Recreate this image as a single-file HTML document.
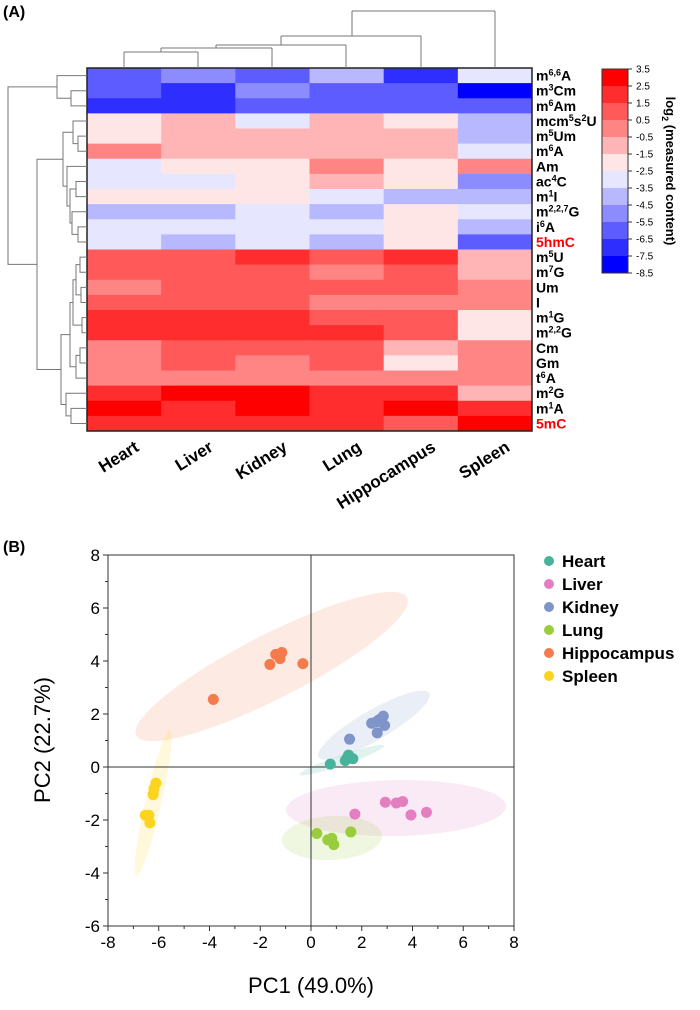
<!DOCTYPE html>
<html><head><meta charset="utf-8"><style>
body{margin:0;background:#fff;}
svg text{font-family:"Liberation Sans",Arial,sans-serif;}
</style></head><body>
<svg id="s" width="700" height="1005" xmlns="http://www.w3.org/2000/svg">
<text x="3" y="17" font-size="16" font-weight="bold">(A)</text>
<text x="3" y="552" font-size="16" font-weight="bold">(B)</text>
<g id="hm"></g>
<g id="pca"></g>
</svg>
<script>
const NS="http://www.w3.org/2000/svg";
function mk(p,t,a){const e=document.createElementNS(NS,t);for(const k in a)e.setAttribute(k,a[k]);p.appendChild(e);return e;}
// ---------- Heatmap data ----------
const tissues=["Heart","Liver","Kidney","Lung","Hippocampus","Spleen"];
const rowLabels=[["m","6,6","A"],["m","3","Cm"],["m","6","Am"],["mcm","5","s","2","U"],["m","5","Um"],["m","6","A"],["Am"],["ac","4","C"],["m","1","I"],["m","2,2,7","G"],["i","6","A"],["5hmC"],["m","5","U"],["m","7","G"],["Um"],["I"],["m","1","G"],["m","2,2","G"],["Cm"],["Gm"],["t","6","A"],["m","2","G"],["m","1","A"],["5mC"]];
const redRows=[11,23];
const hmValues=[
[-6,-5,-6,-4,-7,-3],[-6,-7,-5,-6,-6,-8],[-7,-7,-6,-6,-6,-6],
[-2,-1,-3,-1,-2,-4],[-2,-1,-1,-1,-1,-4],[0,-1,-1,-1,-1,-3],
[-3,-2,-2,0,-2,0],[-3,-3,-2,-1,-2,-5],[-2,-2,-2,-3,-4,-4],
[-4,-4,-3,-4,-2,-3],[-3,-3,-3,-3,-2,-4],[-3,-4,-3,-4,-2,-6],
[1,1,2,1,2,-1],[1,1,1,0,1,-1],[0,1,1,1,1,0],[1,1,1,0,0,0],
[2,2,2,1,1,-2],[2,2,2,2,1,-2],[0,1,1,1,-1,0],[0,1,0,1,-2,0],
[0,0,0,0,0,0],[2,3,3,2,2,-1],[3,2,3,2,3,2],[2,2,2,2,1,3]];
const cbTicks=[3.5,2.5,1.5,0.5,-0.5,-1.5,-2.5,-3.5,-4.5,-5.5,-6.5,-7.5,-8.5];
const palette=["#ff0000","#ff2d2d","#ff5959","#ff8585","#ffb5b5","#ffe6e6","#e6e6ff","#b8b8ff","#8c8cff","#5c5cff","#2e2eff","#0000ff"];
function colorOf(v){let i=Math.floor(3.5-v);i=Math.max(0,Math.min(11,i));return palette[i];}
const HX0=87,HX1=532,HY0=68,HY1=431;
const cw=(HX1-HX0)/tissues.length, rh=(HY1-HY0)/rowLabels.length;
const hmX=i=>HX0+i*cw, hmY=j=>HY0+j*rh;
const hm=document.getElementById('hm');
hmValues.forEach((row,j)=>row.forEach((v,i)=>{
 const r=mk(hm,'rect',{x:hmX(i),y:hmY(j),width:cw+0.5,height:rh+0.5,fill:colorOf(v)});
 
 
}));
mk(hm,'rect',{x:HX0,y:HY0,width:HX1-HX0,height:HY1-HY0,fill:'none',stroke:'#222','stroke-width':1.5});
rowLabels.forEach((lab,j)=>{
 const t=mk(hm,'text',{x:HX1+4,y:hmY(j)+rh/2+5,'font-size':14,'font-weight':'bold',fill:redRows.includes(j)?'#ff0000':'#000'});
 
 
 lab.forEach((p,k)=>{const ts=mk(t,'tspan',{});ts.textContent=p;
  if(k%2==1){ts.setAttribute('font-size','9');ts.setAttribute('dy','-5');}
  else if(k>0){ts.setAttribute('dy','5');}});
});
tissues.forEach((n,i)=>{
 const cx=hmX(i)+cw/2+16, cy=450;
 const t=mk(hm,'text',{x:cx,y:cy,'font-size':17,'font-weight':'bold','text-anchor':'end',transform:`rotate(-32 ${cx} ${cy})`});
 t.textContent=n;
 
 
});
// column dendrogram
const cd=[[124,52,198,52],[161,48,272,48],[216,45,346,45],[281,36,421,36],[352,11,495,11]];
const cdv=[[124,52,68],[198,52,68],[161,48,52],[272,48,68],[216,45,48],[346,45,68],[281,36,45],[421,36,68],[352,11,36],[495,11,68]];
const cdg=mk(hm,'g',{stroke:'#777','stroke-width':1,fill:'none'});

cd.forEach(l=>mk(cdg,'line',{x1:l[0],y1:l[1],x2:l[2],y2:l[3]}));
cdv.forEach(l=>mk(cdg,'line',{x1:l[0],y1:l[1],x2:l[0],y2:l[2]}));
// row dendrogram
const rdg=mk(hm,'g',{stroke:'#777','stroke-width':1,fill:'none'});

const rc=j=>hmY(j)+rh/2;
function br(x,ya,yb,xa,xb){mk(rdg,'polyline',{points:`${xa},${ya} ${x},${ya} ${x},${yb} ${xb},${yb}`});return (ya+yb)/2;}
let a=br(71,rc(1),rc(2),87,87); let A=br(57,rc(0),a,87,71);
let b=br(78,rc(4),rc(5),87,87); let b2=br(73,rc(3),b,87,78);
let c=br(76,rc(7),rc(8),87,87); let c2=br(78,rc(10),rc(11),87,87); let c3=br(72,rc(9),c2,87,78);
let c4=br(70,c,c3,76,72); let c5=br(67,rc(6),c4,87,70); let B=br(63,b2,c5,73,67);
let d=br(80,rc(12),rc(13),87,87); let d2=br(81,rc(14),rc(15),87,87); let d3=br(76,d,d2,80,81);
let d4=br(82,rc(16),rc(17),87,87); let d5=br(73,d3,d4,76,82);
let e=br(80,rc(18),rc(19),87,87); let e2=br(76,e,rc(20),80,87); let e3=br(70,d5,e2,73,76);
let f=br(71,rc(22),rc(23),87,87); let f2=br(66,rc(21),f,87,71); let F=br(61,e3,f2,70,66);
let G=br(37,B,F,63,61); br(8,A,G,57,37);
// colorbar
const CX=602,CW=26,CY0=69,CY1=273;
const cbY=v=>CY0+(3.5-v)/12*(CY1-CY0);
palette.forEach((c,i)=>{const r=mk(hm,'rect',{x:CX,y:cbY(3.5-i),width:CW,height:(CY1-CY0)/12+0.3,fill:c});
 });
mk(hm,'rect',{x:CX,y:CY0,width:CW,height:CY1-CY0,fill:'none',stroke:'#333','stroke-width':1});
cbTicks.forEach(v=>{mk(hm,'line',{x1:CX+CW,x2:CX+CW+4,y1:cbY(v),y2:cbY(v),stroke:'#333'});
 const t=mk(hm,'text',{x:CX+CW+8,y:cbY(v)+3.5,'font-size':10});t.textContent=v.toFixed(1);
 });
const ct=mk(hm,'text',{x:666,y:171,'font-size':13,'font-weight':'bold','text-anchor':'middle',transform:'rotate(90 666 171)'});
ct.innerHTML='log<tspan font-size="9" dy="4">2</tspan><tspan dy="-4"> (measured content)</tspan>';


// ---------- PCA ----------
const groups=["Heart","Liver","Kidney","Lung","Hippocampus","Spleen"];
const colors=["#47b39a","#e37fc0","#7f94c8","#9acd3c","#f47c4c","#fcd31d"];
const heartX=[0.76,1.35,1.48,1.65,1.42], heartY=[0.11,0.24,0.45,0.31,0.33];
const liverX=[1.73,2.93,3.36,3.61,3.94,4.55], liverY=[-1.78,-1.33,-1.36,-1.30,-1.81,-1.71];
const kidneyX=[1.52,2.39,2.59,2.85,2.90,2.61,2.69], kidneyY=[1.05,1.65,1.71,1.92,1.57,1.29,1.79];
const lungX=[0.23,0.66,0.82,0.90,1.57], lungY=[-2.51,-2.75,-2.69,-2.93,-2.45];
const hippoX=[-3.85,-1.62,-1.39,-1.15,-1.22,-0.32], hippoY=[2.55,3.87,4.25,4.32,4.09,3.90];
const spleenX=[-6.11,-6.19,-6.22,-6.53,-6.39,-6.35], spleenY=[-0.61,-0.82,-1.04,-1.82,-1.82,-2.11];
const ellCX=[1.22,3.35,2.48,0.83,-1.55,-6.22], ellCY=[0.26,-1.55,1.58,-2.68,3.79,-1.36];
const xTicks=[-8,-6,-4,-2,0,2,4,6,8], yTicks=[-6,-4,-2,0,2,4,6,8];
const PX0=108,PX1=514,PY0=555,PY1=926;
const sx=v=>PX0+(v+8)/16*(PX1-PX0), sy=v=>PY1-(v+6)/14*(PY1-PY0);
const ellGeom=[[45,5,-19],[110,28,-1],[64,15,-30],[50,22,-3],[152,32,-27],[75,8,-77]];
const pg=document.getElementById('pca');
groups.forEach((g,i)=>{const cx=sx(ellCX[i]),cy=sy(ellCY[i]);const [rx,ry,an]=ellGeom[i];
 const e=mk(pg,'ellipse',{cx,cy,rx,ry,fill:colors[i],'fill-opacity':0.16,transform:`rotate(${an} ${cx} ${cy})`});
 });
mk(pg,'line',{x1:sx(0),x2:sx(0),y1:PY0,y2:PY1,stroke:'#333','stroke-width':1});
mk(pg,'line',{x1:PX0,x2:PX1,y1:sy(0),y2:sy(0),stroke:'#333','stroke-width':1});
mk(pg,'rect',{x:PX0,y:PY0,width:PX1-PX0,height:PY1-PY0,fill:'none',stroke:'#333','stroke-width':1});
const series=[[heartX,heartY],[liverX,liverY],[kidneyX,kidneyY],[lungX,lungY],[hippoX,hippoY],[spleenX,spleenY]];
series.forEach((s,i)=>s[0].forEach((x,k)=>{const c=mk(pg,'circle',{cx:sx(x),cy:sy(s[1][k]),r:5.5,fill:colors[i]});
 }));
xTicks.forEach(v=>{mk(pg,'line',{x1:sx(v),x2:sx(v),y1:PY1,y2:PY1+5,stroke:'#333'});
 if(v<8)mk(pg,'line',{x1:sx(v+1),x2:sx(v+1),y1:PY1,y2:PY1+3,stroke:'#333'});
 const t=mk(pg,'text',{x:sx(v),y:PY1+22,'font-size':17,'text-anchor':'middle'});t.textContent=v;
 });
yTicks.forEach(v=>{mk(pg,'line',{x1:PX0-5,x2:PX0,y1:sy(v),y2:sy(v),stroke:'#333'});
 if(v<8)mk(pg,'line',{x1:PX0-3,x2:PX0,y1:sy(v+1),y2:sy(v+1),stroke:'#333'});
 const t=mk(pg,'text',{x:PX0-8,y:sy(v)+6,'font-size':17,'text-anchor':'end'});t.textContent=v;
 });
const xt=mk(pg,'text',{x:311,y:993,'font-size':22,'text-anchor':'middle'});xt.textContent='PC1 (49.0%)';

const yt=mk(pg,'text',{x:50,y:740,'font-size':22,'text-anchor':'middle',transform:'rotate(-90 50 740)'});yt.textContent='PC2 (22.7%)';

groups.forEach((g,i)=>{const y=561+i*23;
 const c=mk(pg,'circle',{cx:549,cy:y,r:5,fill:colors[i]});
 
 const t=mk(pg,'text',{x:562,y:y+6,'font-size':17,'font-weight':'bold'});t.textContent=g;
 });
</script>
</body></html>
